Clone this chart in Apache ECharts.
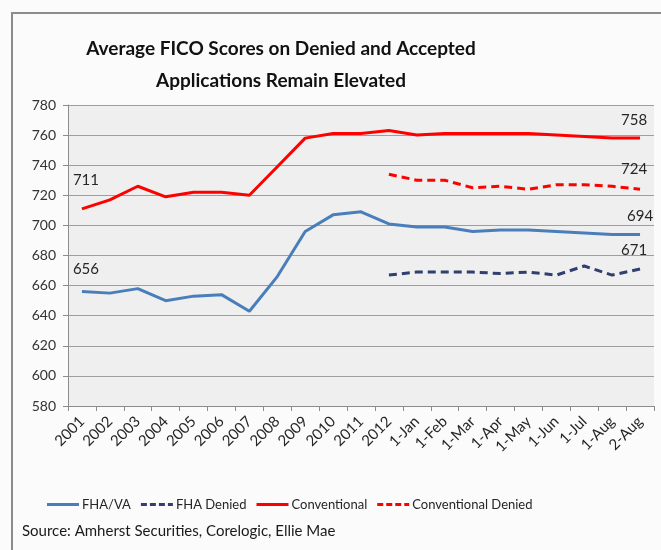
<!DOCTYPE html>
<html>
<head>
<meta charset="utf-8">
<script src="https://cdn.jsdelivr.net/npm/echarts@6/dist/echarts.min.js"></script>
<style>
  html, body { margin: 0; padding: 0; background: #fff; }
  #chart { width: 661px; height: 550px; }
</style>
</head>
<body>
<div id="chart"></div>
<script>
const categories = ['2001', '2002', '2003', '2004', '2005', '2006', '2007', '2008', '2009', '2010', '2011', '2012',
  '1-Jan', '1-Feb', '1-Mar', '1-Apr', '1-May', '1-Jun', '1-Jul', '1-Aug', '2-Aug']
const fhaVa = [656, 655, 658, 650, 653, 654, 643, 666, 696, 707, 709, 701, 699, 699, 696, 697, 697, 696, 695, 694, 694]
const fhaDenied = [null, null, null, null, null, null, null, null, null, null, null,
  667, 669, 669, 669, 668, 669, 667, 673, 667, 671]
const conventional = [711, 717, 726, 719, 722, 722, 720, 739, 758, 761, 761, 763, 760, 761, 761, 761, 761, 760, 759, 758, 758]
const convDenied = [null, null, null, null, null, null, null, null, null, null, null,
  734, 730, 730, 725, 726, 724, 727, 727, 726, 724]
const yTicks = { min: 580, max: 780, step: 20 }

const font = 'Lato, "Open Sans", sans-serif'

// legend icons: plain line and dashed line, no markers
const solidIcon = 'path://M0,0 H32 V3 H0 Z'
const dashIcon = 'path://M0,0 H6 V3 H0 Z M9,0 H15 V3 H9 Z M18,0 H24 V3 H18 Z M27,0 H32 V3 H27 Z'

// show a value label on the first and last points only
function withEndLabels (arr, firstOffset, lastOffset) {
  const last = arr.length - 1
  return arr.map((v, i) => {
    if (i === 0 && firstOffset) {
      return { value: v, symbol: 'circle', label: { show: true, offset: firstOffset } }
    }
    if (i === last) {
      return { value: v, symbol: 'circle', label: { show: true, offset: lastOffset } }
    }
    return v
  })
}

const labelStyle = {
  show: false,
  position: 'top',
  color: '#262626',
  fontSize: 15,
  fontFamily: font
}

function lineSeries (name, data, color, dashed) {
  return {
    name: name,
    type: 'line',
    data: data,
    symbol: 'none',
    symbolSize: 0,
    showSymbol: true,
    lineStyle: { color: color, width: 3, type: dashed ? [8, 5] : 'solid' },
    itemStyle: { color: color },
    label: labelStyle
  }
}

const chart = echarts.init(document.getElementById('chart'))
chart.setOption({
  backgroundColor: '#fbfbfb',
  animation: false,
  title: {
    text: 'Average FICO Scores on Denied and Accepted\nApplications Remain Elevated',
    left: 276,
    textAlign: 'center',
    top: 28,
    textStyle: {
      fontFamily: font,
      fontWeight: 'bold',
      fontSize: 19,
      lineHeight: 32,
      color: '#111'
    }
  },
  graphic: [
    {
      type: 'rect',
      shape: { x: 12, y: 13, width: 700, height: 600 },
      style: { fill: 'none', stroke: '#8c8c8c', lineWidth: 2 },
      silent: true
    },
    {
      type: 'text',
      left: 22,
      top: 524,
      style: {
        text: 'Source: Amherst Securities, Corelogic, Ellie Mae',
        fontFamily: font,
        fontSize: 15,
        fill: '#1a1a1a'
      }
    }
  ],
  legend: {
    left: 42,
    top: 493,
    itemWidth: 32,
    itemHeight: 3,
    itemGap: 10,
    textStyle: { fontFamily: font, fontSize: 13, color: '#262626', padding: [0, 0, 0, -2] },
    data: [
      { name: 'FHA/VA', icon: solidIcon },
      { name: 'FHA Denied', icon: dashIcon },
      { name: 'Conventional', icon: solidIcon },
      { name: 'Conventional Denied', icon: dashIcon }
    ]
  },
  grid: {
    left: 68,
    right: 7,
    top: 105,
    bottom: 144,
    show: true,
    backgroundColor: '#efefef',
    borderWidth: 0
  },
  xAxis: {
    type: 'category',
    data: categories,
    boundaryGap: true,
    axisLine: { lineStyle: { color: '#8c8c8c', width: 1 } },
    axisTick: { show: true, length: 5, lineStyle: { color: '#8c8c8c' } },
    axisLabel: {
      rotate: 45,
      interval: 0,
      fontFamily: font,
      fontSize: 15,
      color: '#262626',
      margin: 13
    }
  },
  yAxis: {
    type: 'value',
    min: yTicks.min,
    max: yTicks.max,
    interval: yTicks.step,
    axisLine: { show: true, lineStyle: { color: '#8c8c8c' } },
    axisTick: { show: true, length: 5, lineStyle: { color: '#8c8c8c' } },
    splitLine: { lineStyle: { color: '#9e9e9e', width: 1 } },
    axisLabel: {
      fontFamily: font,
      fontSize: 14,
      color: '#333',
      margin: 12
    }
  },
  series: [
    lineSeries('FHA/VA', withEndLabels(fhaVa, [4, -10], [0, -6]), '#4a7ebb', false),
    lineSeries('FHA Denied', withEndLabels(fhaDenied, null, [-6, -6]), '#2f3f6e', true),
    lineSeries('Conventional', withEndLabels(conventional, [4, -16], [-6, -5]), '#ff0000', false),
    lineSeries('Conventional Denied', withEndLabels(convDenied, null, [-6, -8]), '#ff0000', true)
  ]
})
</script>
</body>
</html>
